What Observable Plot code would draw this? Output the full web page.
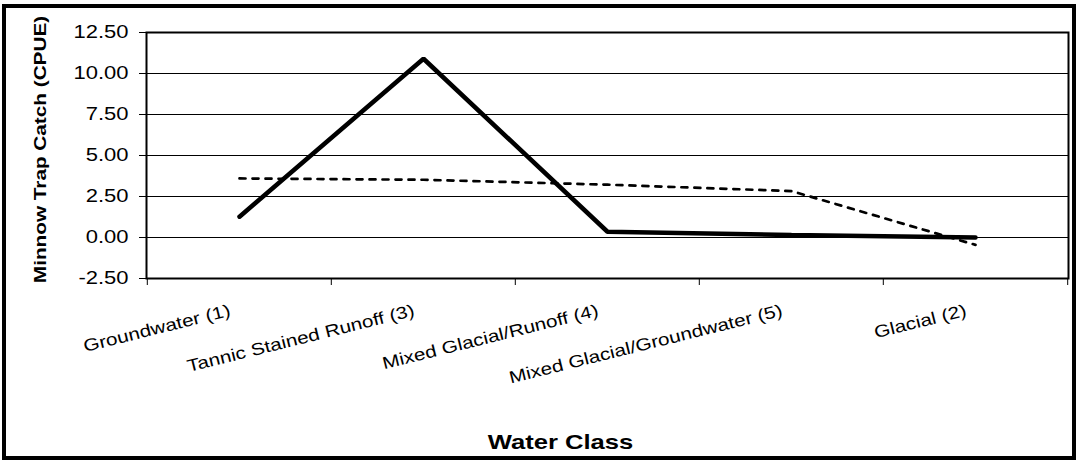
<!DOCTYPE html>
<html>
<head>
<meta charset="utf-8">
<script src="https://cdn.jsdelivr.net/npm/d3@7"></script>
<script src="https://cdn.jsdelivr.net/npm/@observablehq/plot@0.6"></script>
<style>
  html, body { margin: 0; padding: 0; background: #fff; }
  #wrap { position: relative; width: 1078px; height: 463px; overflow: hidden; }
  #border { position: absolute; left: 2px; top: 4px; width: 1074px; height: 456px; box-sizing: border-box; border: 4px solid #000; pointer-events: none; }
</style>
</head>
<body>
<div id="wrap"><div id="border"></div></div>
<script>
const categories = [
  "Groundwater (1)",
  "Tannic Stained Runoff (3)",
  "Mixed Glacial/Runoff (4)",
  "Mixed Glacial/Groundwater (5)",
  "Glacial (2)"
];
const cpue = [1.27, 10.9, 0.35, 0.15, 0.0];
const trend = [3.6, 3.52, 3.22, 2.83, -0.45];
const yTicks = [-2.5, 0, 2.5, 5, 7.5, 10, 12.5];
const gridValues = [0, 2.5, 5, 7.5, 10];
const yTitle = "Minnow Trap Catch (CPUE)";
const xTitle = "Water Class";

const rows = categories.map((c, i) => ({category: c, cpue: cpue[i], trend: trend[i]}));

const W = 1078, H = 463;
const mL = 146, mR = 10, mT = 32, mB = 185;
const step = (W - mL - mR) / categories.length;

const chart = Plot.plot({
  width: W,
  height: H,
  marginLeft: mL,
  marginRight: mR,
  marginTop: mT,
  marginBottom: mB,
  style: {fontFamily: "'Liberation Sans', Arial, sans-serif", fontSize: "17px", background: "#fff", color: "#000"},
  x: {type: "point", domain: categories, padding: 0.5, align: 0.5},
  y: {domain: [-2.5, 12.5]},
  marks: [
    Plot.ruleY(gridValues, {stroke: "#000", strokeWidth: 1}),
    Plot.frame({stroke: "#000", strokeWidth: 2}),
    Plot.axisY({ticks: yTicks, tickFormat: d => d.toFixed(2), tickSize: 7, tickPadding: 11, fontSize: 18, label: null}),
    Plot.axisX({ticks: categories, text: null, tickSize: 7, dx: -step / 2, label: null}),
    Plot.axisX({ticks: [categories[categories.length - 1]], text: null, tickSize: 7, dx: step / 2, label: null}),
    Plot.text(categories, {x: d => d, text: d => d, frameAnchor: "bottom", dx: -8, dy: 37, rotate: -14, textAnchor: "end", lineAnchor: "bottom", fontSize: 17}),
    Plot.line(rows, {x: "category", y: "cpue", stroke: "#000", strokeWidth: 4.5, strokeLinecap: "round", strokeLinejoin: "miter"}),
    Plot.line(rows, {x: "category", y: "trend", stroke: "#000", strokeWidth: 2.7, strokeDasharray: "6,7"}),
    Plot.text([yTitle], {text: d => d, frameAnchor: "left", textAnchor: "middle", dx: -106, dy: -6, rotate: -90, fontWeight: "bold", fontSize: 17, ariaLabel: "ytitle"}),
    Plot.text([xTitle], {text: d => d, frameAnchor: "bottom", textAnchor: "middle", dx: -47, dy: 170, lineAnchor: "bottom", fontWeight: "bold", fontSize: 21})
  ]
});

document.getElementById("wrap").prepend(chart);

// horizontal stretch of the reference's lettering
chart.querySelectorAll("text").forEach(t => {
  if (t.closest('g[aria-label="ytitle"]')) return;
  const len = t.getComputedTextLength();
  if (len > 0) {
    t.setAttribute("textLength", (len * 1.22).toFixed(1));
    t.setAttribute("lengthAdjust", "spacingAndGlyphs");
  }
});
</script>
</body>
</html>
